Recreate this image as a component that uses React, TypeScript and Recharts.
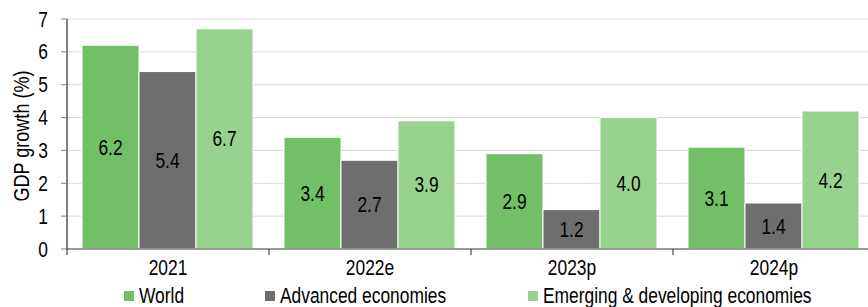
import { BarChart, Bar, XAxis, YAxis, CartesianGrid, Legend, LabelList, Label } from "recharts";

const categories = ["2021", "2022e", "2023p", "2024p"];
const worldGrowth = [6.2, 3.4, 2.9, 3.1];
const advancedGrowth = [5.4, 2.7, 1.2, 1.4];
const emergingGrowth = [6.7, 3.9, 4.0, 4.2];
const yTicks = [0, 1, 2, 3, 4, 5, 6, 7];

const SERIES = [
  { key: "world", name: "World", color: "#72bf68", legendX: 124 },
  { key: "advanced", name: "Advanced economies", color: "#6e6e6e", legendX: 265 },
  { key: "emerging", name: "Emerging & developing economies", color: "#98d28f", legendX: 528 },
];

const data = categories.map((year, i) => ({
  year,
  world: worldGrowth[i],
  advanced: advancedGrowth[i],
  emerging: emergingGrowth[i],
}));

// no Arial Narrow in the sandbox: squeeze Liberation Sans horizontally instead
const FONT = '"Liberation Sans", Arial, sans-serif';
const NARROW = 0.82;
const FS = 21.2;
const CHART_W = 880;
const MARGIN = { top: 19, right: 5, left: 0, bottom: 2 };
const Y_AXIS_W = 67;
const HALF_BAND = (CHART_W - MARGIN.left - MARGIN.right - Y_AXIS_W) / categories.length / 2;

const NarrowText = ({ x, y, anchor = "middle", size = FS, children }: any) => (
  <text
    transform={`translate(${x},${y}) scale(${NARROW},1)`}
    textAnchor={anchor}
    fill="#000"
    style={{ fontSize: size, fontFamily: FONT }}
  >
    {children}
  </text>
);

// category ticks sit between the groups, label in the middle
const XTick = (props: { x?: number; y?: number; payload?: { value: string } }) => {
  const { x = 0, y = 0, payload } = props;
  return (
    <g>
      <line x1={x - HALF_BAND} x2={x - HALF_BAND} y1={y} y2={y + 6} stroke="#222" strokeWidth={1} />
      <NarrowText x={x} y={y + 26}>{payload?.value}</NarrowText>
    </g>
  );
};

const YTick = (props: { x?: number; y?: number; payload?: { value: number } }) => {
  const { x = 0, y = 0, payload } = props;
  return (
    <NarrowText x={x} y={y + 7.5} anchor="end">
      {payload?.value}
    </NarrowText>
  );
};

const BarValue = (props: any) => {
  const { x = 0, y = 0, width = 0, height = 0, value } = props;
  return (
    <NarrowText x={x + width / 2} y={y + height / 2 + 7.5}>
      {Number(value).toFixed(1)}
    </NarrowText>
  );
};

const LegendContent = () => (
  <div style={{ position: "relative", height: 24, fontFamily: FONT, fontSize: FS, color: "#000" }}>
    {SERIES.map((s) => (
      <div key={s.key} style={{ position: "absolute", left: s.legendX, top: 3, height: 24, display: "flex", alignItems: "center", whiteSpace: "nowrap" }}>
        <span style={{ width: 10, height: 10, background: s.color, marginRight: 5, display: "inline-block" }} />
        <span style={{ display: "inline-block", transform: `scaleX(${NARROW})`, transformOrigin: "left center" }}>{s.name}</span>
      </div>
    ))}
  </div>
);

export default function App() {
  return (
    <div style={{ position: "fixed", left: 0, top: 0, width: 868, height: 307, overflow: "hidden", background: "#fff" }}>
      <BarChart width={CHART_W} height={307} data={data} margin={MARGIN} barCategoryGap={15} barGap={0}>
        <CartesianGrid horizontal vertical={false} stroke="#d9d9d9" />
        <XAxis
          dataKey="year"
          height={32}
          tickSize={0}
          tickMargin={0}
          tick={<XTick />}
          axisLine={{ stroke: "#7f7f7f", strokeWidth: 1.5 }}
          interval={0}
        />
        <YAxis
          width={Y_AXIS_W}
          domain={[0, 7]}
          ticks={yTicks}
          interval={0}
          tickSize={6}
          tickMargin={13}
          tickLine={{ stroke: "#7f7f7f" }}
          axisLine={{ stroke: "#000" }}
          tick={<YTick />}
        >
          <Label
            content={({ viewBox }: any) => {
              const cy = viewBox.y + viewBox.height / 2 + 2;
              return (
                <text
                  transform={`translate(29,${cy}) rotate(-90) scale(${NARROW},1)`}
                  textAnchor="middle"
                  fill="#000"
                  style={{ fontSize: 22, fontFamily: FONT }}
                >
                  GDP growth (%)
                </text>
              );
            }}
          />
        </YAxis>
        <Legend verticalAlign="bottom" content={<LegendContent />} />
        {SERIES.map((s) => (
          <Bar key={s.key} dataKey={s.key} name={s.name} fill={s.color} stroke="#fff" strokeWidth={1} isAnimationActive={false}>
            <LabelList dataKey={s.key} content={<BarValue />} />
          </Bar>
        ))}
      </BarChart>
    </div>
  );
}
